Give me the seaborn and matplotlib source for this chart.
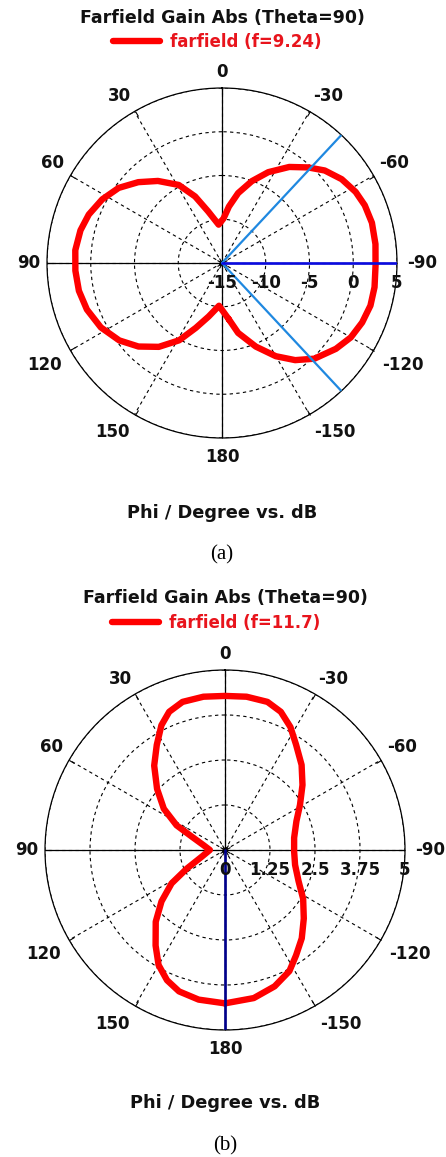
import numpy as np
import matplotlib
matplotlib.use("Agg")
import matplotlib.pyplot as plt
import matplotlib.transforms as mtrans
import seaborn as sns

# ---- data read off the two CST farfield cuts (phi in degrees, gain in dB) ----
# (a) f = 9.24, traced round the curve
phi_a = [-173, -167, -158, -150, -143, -136, -127, -120, -113, -106, -99, -91,
         -83, -75, -68, -62, -55, -48, -42, -35, -27, -20, -13, -7, -2,
         5, 15, 22, 29, 38, 46, 54, 62, 70, 77, 85, 93, 101, 109, 118,
         127, 135, 143, 151, 158, 166, 176]
gain_a = [-8.5, -6.8, -4.7, -2.7, -1.1, 0.2, 1.3, 2.0, 2.4, 2.65, 2.65, 2.55,
          2.67, 2.74, 2.6, 2.3, 1.7, 0.8, -0.3, -1.6, -3.35, -5.05, -6.8, -8.5, -9.9,
          -10.6, -8.9, -6.8, -4.8, -3.1, -1.7, -0.4, 0.5, 1.2, 1.6, 1.83, 1.78, 1.66, 1.33, 0.68,
          -0.3, -1.5, -3.0, -4.9, -7.0, -8.7, -10.1]

# (b) f = 11.7
phi_b = [-180, -169, -160, -152, -146, -139, -131, -122, -113, -102, -91, -80,
         -68, -59, -50, -42, -34, -28, -22, -16, -8, 0,
         8, 16, 22, 27, 33, 40, 48, 56, 63, 68, 77, 90,
         106, 116, 122, 129, 136, 144, 150, 156, 162, 170, 180]
gain_b = [4.26, 4.19, 4.03, 3.81, 3.53, 3.25, 2.9, 2.56, 2.22, 1.99, 1.92, 1.95,
          2.14, 2.43, 2.81, 3.18, 3.53, 3.87, 4.14, 4.28, 4.3, 4.28,
          4.3, 4.28, 4.14, 3.89, 3.48, 3.06, 2.54, 2.05, 1.51, 1.0, 0.62, 0.42,
          0.67, 1.18, 1.75, 2.27, 2.77, 3.28, 3.69, 3.96, 4.13, 4.22, 4.26]

theta_ticks = [0, 30, 60, 90, 120, 150, 180, 210, 240, 270, 300, 330]
theta_labels = ["0", "30", "60", "90", "120", "150", "180",
                "-150", "-120", "-90", "-60", "-30"]
axis_angles = [0, 90, 180, 270]

r_ticks_a = [-15, -10, -5, 0, 5]
r_labels_a = ["-15", "-10", "-5", "0", "5"]
r_ticks_b = [0, 1.25, 2.5, 3.75, 5]
r_labels_b = ["0", "1.25", "2.5", "3.75", "5"]

main_dir_a = -90
beam_edges_a = [-43, -137]
main_dir_b = 180

sns.set_theme(style="white")
plt.rcParams["font.family"] = ["DejaVu Sans"]

W, H = 446, 1157
fig = plt.figure(figsize=(W / 100, H / 100), dpi=100, facecolor="white")


def px_axes(cx, cy, rad):
    return fig.add_axes([(cx - rad) / W, (H - cy - rad) / H, 2 * rad / W, 2 * rad / H],
                        projection="polar")


def panel(ax, phi, gain, rticks, rlabels, label, main_dir, main_col, edges, leg_xy):
    rmin, rmax = rticks[0], rticks[-1]
    # close the loop
    x = np.deg2rad(np.append(phi, phi[0]))
    y = np.append(gain, gain[0])
    sns.lineplot(x=x, y=y, ax=ax, color="#ff0000", lw=4.6,
                 label=label, sort=False, estimator=None, zorder=4)
    ax.set_theta_zero_location("N")
    ax.set_theta_direction(1)
    ax.set_ylim(rmin, rmax)
    ax.set_facecolor("white")
    ax.grid(True, color="black", lw=0.8, linestyle=(0, (3, 3)))
    ax.set_thetagrids(theta_ticks, [""] * len(theta_ticks))
    ax.tick_params(axis="x", direction="in", length=4, width=0.8,
                   color="black", bottom=True, top=True)
    ax.set_yticks(rticks)
    ax.set_yticklabels([])
    ax.set_xlabel("")
    ax.set_ylabel("")
    ax.spines["polar"].set_color("black")
    ax.spines["polar"].set_linewidth(0.9)

    # angle labels, edge-anchored just outside the circle
    for a, s in zip(theta_ticks, theta_labels):
        ux, uy = -np.sin(np.deg2rad(a)), np.cos(np.deg2rad(a))
        ha = "left" if ux > 0.3 else ("right" if ux < -0.3 else "center")
        va = "bottom" if uy > 0.3 else ("top" if uy < -0.3 else "center")
        g = 7 if uy >= 0 else 10
        ax.annotate(s, xy=(np.deg2rad(a), rmax), xytext=(ux * g, uy * g),
                    textcoords="offset pixels", ha=ha, va=va, fontsize=12,
                    fontweight="bold", color="#111111", annotation_clip=False)

    # solid principal axes
    for a in axis_angles:
        ax.plot([np.deg2rad(a)] * 2, [rmin, rmax], color="black", lw=0.9, zorder=3)

    # radial value labels under the right-hand axis
    off = mtrans.offset_copy(ax.transData, fig=fig, x=0, y=-20, units="dots")
    for v, s in zip(rticks, rlabels):
        ax.text(np.deg2rad(-90), v, s, transform=off, ha="center", va="center",
                fontsize=12, fontweight="bold", color="#111111", zorder=6)

    # main lobe direction and 3 dB beamwidth markers
    for e in edges:
        ax.plot([np.deg2rad(e)] * 2, [rmin, rmax], color="#1f88e0", lw=1.6, zorder=5)
    ax.plot([np.deg2rad(main_dir)] * 2, [rmin, rmax], color=main_col, lw=1.9, zorder=5)

    leg = ax.legend(loc="center", bbox_to_anchor=leg_xy, bbox_transform=fig.transFigure,
                    frameon=False, handlelength=2.8, handletextpad=0.6,
                    prop=dict(weight="bold", size=12))
    for t in leg.get_texts():
        t.set_color("#e8141c")


ax_a = px_axes(222, 263, 175)
panel(ax_a, phi_a, gain_a, r_ticks_a, r_labels_a, "farfield (f=9.24)", main_dir_a, "#0a0ae0",
      beam_edges_a, (217 / W, 1 - 42 / H))

ax_b = px_axes(225, 850, 180)
panel(ax_b, phi_b, gain_b, r_ticks_b, r_labels_b, "farfield (f=11.7)", main_dir_b, "#00008c",
      [], (216 / W, 1 - 623 / H))

for y_title, y_xl, y_cap, cap, cx in [(18, 513, 555, "(a)", 222), (598, 1103, 1146, "(b)", 225)]:
    fig.text(cx / W, 1 - y_title / H, "Farfield Gain Abs (Theta=90)", ha="center", va="center",
             fontsize=12.5, fontweight="bold", color="#111111")
    fig.text(cx / W, 1 - y_xl / H, "Phi / Degree vs. dB", ha="center", va="center",
             fontsize=12.8, fontweight="bold", color="#111111")
    fig.text(cx / W, 1 - y_cap / H, cap, ha="center", va="center",
             fontsize=15, family="Liberation Serif", color="black")

fig.savefig("out.png", dpi=100, facecolor="white")
